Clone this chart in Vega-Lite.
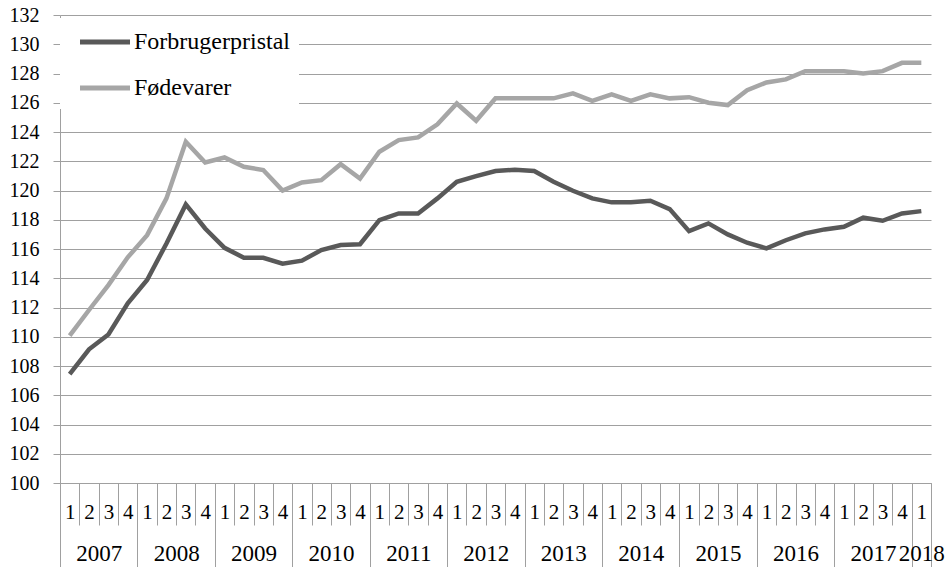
{
  "$schema": "https://vega.github.io/schema/vega-lite/v6.json",
  "width": 871,
  "height": 468,
  "autosize": {"type": "none"},
  "padding": {"left": 60, "top": 15, "right": 20, "bottom": 84},
  "background": "white",
  "config": {
    "font": "Liberation Serif",
    "view": {"stroke": null},
    "axis": {"labelFont": "Liberation Serif", "labelColor": "black", "title": null},
    "legend": {"labelFont": "Liberation Serif"}
  },
  "data": {
    "values": [
      {"t": 0, "serie": "Forbrugerpristal", "value": 107.45},
      {"t": 1, "serie": "Forbrugerpristal", "value": 109.14},
      {"t": 2, "serie": "Forbrugerpristal", "value": 110.16},
      {"t": 3, "serie": "Forbrugerpristal", "value": 112.28},
      {"t": 4, "serie": "Forbrugerpristal", "value": 113.88},
      {"t": 5, "serie": "Forbrugerpristal", "value": 116.38},
      {"t": 6, "serie": "Forbrugerpristal", "value": 119.05},
      {"t": 7, "serie": "Forbrugerpristal", "value": 117.4},
      {"t": 8, "serie": "Forbrugerpristal", "value": 116.08},
      {"t": 9, "serie": "Forbrugerpristal", "value": 115.4},
      {"t": 10, "serie": "Forbrugerpristal", "value": 115.4},
      {"t": 11, "serie": "Forbrugerpristal", "value": 115.0},
      {"t": 12, "serie": "Forbrugerpristal", "value": 115.2},
      {"t": 13, "serie": "Forbrugerpristal", "value": 115.93},
      {"t": 14, "serie": "Forbrugerpristal", "value": 116.27},
      {"t": 15, "serie": "Forbrugerpristal", "value": 116.33},
      {"t": 16, "serie": "Forbrugerpristal", "value": 117.97},
      {"t": 17, "serie": "Forbrugerpristal", "value": 118.43},
      {"t": 18, "serie": "Forbrugerpristal", "value": 118.43},
      {"t": 19, "serie": "Forbrugerpristal", "value": 119.46},
      {"t": 20, "serie": "Forbrugerpristal", "value": 120.6},
      {"t": 21, "serie": "Forbrugerpristal", "value": 120.98},
      {"t": 22, "serie": "Forbrugerpristal", "value": 121.33},
      {"t": 23, "serie": "Forbrugerpristal", "value": 121.42},
      {"t": 24, "serie": "Forbrugerpristal", "value": 121.33},
      {"t": 25, "serie": "Forbrugerpristal", "value": 120.6},
      {"t": 26, "serie": "Forbrugerpristal", "value": 119.98},
      {"t": 27, "serie": "Forbrugerpristal", "value": 119.46},
      {"t": 28, "serie": "Forbrugerpristal", "value": 119.19},
      {"t": 29, "serie": "Forbrugerpristal", "value": 119.19},
      {"t": 30, "serie": "Forbrugerpristal", "value": 119.3},
      {"t": 31, "serie": "Forbrugerpristal", "value": 118.73},
      {"t": 32, "serie": "Forbrugerpristal", "value": 117.22},
      {"t": 33, "serie": "Forbrugerpristal", "value": 117.75},
      {"t": 34, "serie": "Forbrugerpristal", "value": 117.0},
      {"t": 35, "serie": "Forbrugerpristal", "value": 116.43},
      {"t": 36, "serie": "Forbrugerpristal", "value": 116.04},
      {"t": 37, "serie": "Forbrugerpristal", "value": 116.6},
      {"t": 38, "serie": "Forbrugerpristal", "value": 117.07},
      {"t": 39, "serie": "Forbrugerpristal", "value": 117.34},
      {"t": 40, "serie": "Forbrugerpristal", "value": 117.52},
      {"t": 41, "serie": "Forbrugerpristal", "value": 118.14},
      {"t": 42, "serie": "Forbrugerpristal", "value": 117.93},
      {"t": 43, "serie": "Forbrugerpristal", "value": 118.43},
      {"t": 44, "serie": "Forbrugerpristal", "value": 118.59},
      {"t": 0, "serie": "Fødevarer", "value": 110.07},
      {"t": 1, "serie": "Fødevarer", "value": 111.83},
      {"t": 2, "serie": "Fødevarer", "value": 113.53},
      {"t": 3, "serie": "Fødevarer", "value": 115.43},
      {"t": 4, "serie": "Fødevarer", "value": 116.95},
      {"t": 5, "serie": "Fødevarer", "value": 119.46},
      {"t": 6, "serie": "Fødevarer", "value": 123.33},
      {"t": 7, "serie": "Fødevarer", "value": 121.92},
      {"t": 8, "serie": "Fødevarer", "value": 122.26},
      {"t": 9, "serie": "Fødevarer", "value": 121.62},
      {"t": 10, "serie": "Fødevarer", "value": 121.4},
      {"t": 11, "serie": "Fødevarer", "value": 120.0},
      {"t": 12, "serie": "Fødevarer", "value": 120.55},
      {"t": 13, "serie": "Fødevarer", "value": 120.71},
      {"t": 14, "serie": "Fødevarer", "value": 121.8},
      {"t": 15, "serie": "Fødevarer", "value": 120.82},
      {"t": 16, "serie": "Fødevarer", "value": 122.65},
      {"t": 17, "serie": "Fødevarer", "value": 123.45},
      {"t": 18, "serie": "Fødevarer", "value": 123.63},
      {"t": 19, "serie": "Fødevarer", "value": 124.52},
      {"t": 20, "serie": "Fødevarer", "value": 125.95},
      {"t": 21, "serie": "Fødevarer", "value": 124.77},
      {"t": 22, "serie": "Fødevarer", "value": 126.3},
      {"t": 23, "serie": "Fødevarer", "value": 126.3},
      {"t": 24, "serie": "Fødevarer", "value": 126.3},
      {"t": 25, "serie": "Fødevarer", "value": 126.3},
      {"t": 26, "serie": "Fødevarer", "value": 126.64},
      {"t": 27, "serie": "Fødevarer", "value": 126.13},
      {"t": 28, "serie": "Fødevarer", "value": 126.57},
      {"t": 29, "serie": "Fødevarer", "value": 126.13},
      {"t": 30, "serie": "Fødevarer", "value": 126.57},
      {"t": 31, "serie": "Fødevarer", "value": 126.3},
      {"t": 32, "serie": "Fødevarer", "value": 126.38},
      {"t": 33, "serie": "Fødevarer", "value": 126.0},
      {"t": 34, "serie": "Fødevarer", "value": 125.84},
      {"t": 35, "serie": "Fødevarer", "value": 126.86},
      {"t": 36, "serie": "Fødevarer", "value": 127.39},
      {"t": 37, "serie": "Fødevarer", "value": 127.6},
      {"t": 38, "serie": "Fødevarer", "value": 128.16},
      {"t": 39, "serie": "Fødevarer", "value": 128.16},
      {"t": 40, "serie": "Fødevarer", "value": 128.16},
      {"t": 41, "serie": "Fødevarer", "value": 128.0},
      {"t": 42, "serie": "Fødevarer", "value": 128.16},
      {"t": 43, "serie": "Fødevarer", "value": 128.73},
      {"t": 44, "serie": "Fødevarer", "value": 128.73}
    ]
  },
  "resolve": {"axis": {"x": "independent"}},
  "layer": [
    {
      "mark": {"type": "line", "strokeWidth": 4.5},
      "encoding": {
        "x": {
          "field": "t", "type": "quantitative",
          "scale": {"domain": [-0.5, 44.5], "nice": false, "zero": false},
          "axis": {
            "orient": "bottom",
            "values": [0,1,2,3,4,5,6,7,8,9,10,11,12,13,14,15,16,17,18,19,20,21,22,23,24,25,26,27,28,29,30,31,32,33,34,35,36,37,38,39,40,41,42,43,44],
            "labelExpr": "(datum.value % 4) + 1",
            "tickSize": 0,
            "domain": true, "domainColor": "#a0a0a0", "domainWidth": 1,
            "grid": false,
            "labelFontSize": 21, "labelBaseline": "middle", "labelPadding": 29,
            "labelOverlap": false, "labelFlush": false, "labelBound": false
          }
        },
        "y": {
          "field": "value", "type": "quantitative",
          "scale": {"domain": [100, 132], "nice": false, "zero": false},
          "axis": {
            "values": [100,102,104,106,108,110,112,114,116,118,120,122,124,126,128,130,132],
            "grid": true, "gridColor": "#a0a0a0", "gridWidth": 1,
            "domainColor": "#a0a0a0", "tickColor": "#a0a0a0", "tickSize": 7,
            "labelFontSize": 20, "labelPadding": 14, "labelOverlap": false, "labelFlush": false
          }
        },
        "color": {
          "field": "serie", "type": "nominal",
          "scale": {"domain": ["Forbrugerpristal", "Fødevarer"], "range": ["#595959", "#a6a6a6"]},
          "legend": {
            "orient": "none", "legendX": 0, "legendY": 3, "title": null,
            "symbolType": "M-2,0H2", "symbolSize": 625, "symbolStrokeWidth": 5, "symbolOffset": 21,
            "labelFontSize": 24, "labelColor": "black", "labelLimit": 400,
            "labelOffset": 14, "fillColor": "white", "padding": 9, "rowPadding": 19
          }
        }
      }
    },
    {
      "mark": {"type": "point", "opacity": 0},
      "encoding": {
        "x": {
          "field": "t", "type": "quantitative",
          "axis": {
            "orient": "bottom",
            "values": [-0.5,0.5,1.5,2.5,3.5,4.5,5.5,6.5,7.5,8.5,9.5,10.5,11.5,12.5,13.5,14.5,15.5,16.5,17.5,18.5,19.5,20.5,21.5,22.5,23.5,24.5,25.5,26.5,27.5,28.5,29.5,30.5,31.5,32.5,33.5,34.5,35.5,36.5,37.5,38.5,39.5,40.5,41.5,42.5,43.5,44.5],
            "labels": false, "domain": false, "grid": false,
            "tickSize": 42, "tickColor": "#a0a0a0", "tickWidth": 1
          }
        }
      }
    },
    {
      "mark": {"type": "point", "opacity": 0},
      "encoding": {
        "x": {
          "field": "t", "type": "quantitative",
          "axis": {
            "orient": "bottom",
            "values": [-0.5,3.5,7.5,11.5,15.5,19.5,23.5,27.5,31.5,35.5,39.5,43.5,44.5],
            "labels": false, "domain": false, "grid": false,
            "tickSize": 84, "tickColor": "#a0a0a0", "tickWidth": 1
          }
        }
      }
    },
    {
      "mark": {"type": "point", "opacity": 0},
      "encoding": {
        "x": {
          "field": "t", "type": "quantitative",
          "axis": {
            "orient": "bottom",
            "values": [1.5,5.5,9.5,13.5,17.5,21.5,25.5,29.5,33.5,37.5,41.5,44],
            "labelExpr": "2007 + floor(datum.value / 4)",
            "tickSize": 0, "domain": false, "grid": false,
            "labelFontSize": 23, "labelBaseline": "middle", "labelPadding": 70,
            "labelOverlap": false, "labelFlush": false, "labelBound": false
          }
        }
      }
    }
  ]
}
